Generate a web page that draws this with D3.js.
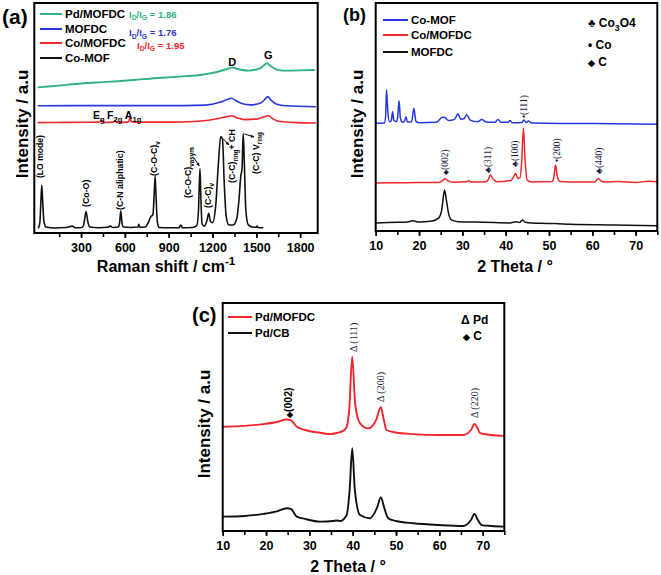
<!DOCTYPE html>
<html><head><meta charset="utf-8">
<script src="https://cdn.jsdelivr.net/npm/d3@7"></script>
<style>body{margin:0;background:#fff}svg{display:block}</style>
</head><body>
<svg id="fig" width="661" height="575"></svg>
<script>
// ---------------- DATA ----------------
const ramanTicks = [300, 600, 900, 1200, 1500, 1800];
const thetaTicks = [10, 20, 30, 40, 50, 60, 70];

// Panel (a): Raman shift (cm-1) vs intensity (a.u.)
const raman_CoMOF = [[7,2.0],[18,4.5],[24,12],[31,20.9],[38,13],[46,5],[60,2.6],[120,2.2],[200,2.4],[240,3.0],[260,2.3],[300,2.3],[315,3],[322,5],[334,9.3],[346,5],[360,2.6],[420,2.3],[480,2.5],[500,3.0],[520,2.4],[556,2.6],[564,4.5],[572,9.6],[580,4.5],[590,2.6],[640,2.4],[690,2.6],[695,3.8],[702,2.5],[740,2.6],[760,4.5],[777,7],[792,8],[800,16],[807,24.8],[814,15],[822,5],[835,2.4],[900,2.3],[970,2.3],[983,3.5],[995,2.3],[1060,2.4],[1092,3.2],[1104,10],[1114,28],[1121,14],[1128,4],[1145,3],[1162,5.5],[1174,8.6],[1186,5],[1200,4.5],[1222,12],[1240,30],[1256,41.9],[1268,41],[1280,22],[1294,7],[1312,3.5],[1340,3.5],[1365,6],[1382,15],[1393,24.5],[1402,28],[1410,43.3],[1418,30],[1428,10],[1445,3.5],[1480,2.5],[1498,2.5],[1505,3.0],[1512,2.4],[1548,2.3]];
const raman_CoMOFDC = [[3,48.0],[200,48.1],[420,48.2],[442,48.9],[455,48.1],[520,48.2],[533,48.9],[546,48.1],[620,48.2],[630,49.0],[636,50.3],[643,48.6],[660,48.2],[900,48.2],[1100,48.6],[1250,49.9],[1300,50.6],[1331,51.0],[1370,50.0],[1420,49.3],[1500,49.5],[1550,50.4],[1582,51.0],[1610,49.8],[1650,48.6],[1750,48.1],[1908,47.8]];
const raman_MOFDC = [[3,55.3],[600,55.4],[1000,55.4],[1150,55.6],[1250,56.8],[1300,58.0],[1331,58.6],[1360,57.6],[1400,56.3],[1460,55.7],[1530,56.5],[1560,58.2],[1578,59.3],[1600,57.8],[1640,56.0],[1700,55.3],[1908,54.9]];
const raman_PdMOFDC = [[3,63.3],[100,63.8],[200,64.4],[316,65.1],[450,65.6],[550,66.0],[658,66.5],[800,67.3],[950,67.9],[1114,68.7],[1229,70.0],[1300,71.3],[1335,71.9],[1380,71.2],[1445,70.6],[1520,71.5],[1550,72.8],[1571,73.8],[1600,72.5],[1640,71.0],[1685,70.6],[1800,70.7],[1901,70.9]];

// Panel (b): 2 Theta vs intensity
const xrd_CoMOF = [[10,46.8],[12,46.9],[12.3,50],[12.5,61.6],[12.8,52],[13.2,47.5],[13.6,48],[13.9,51.9],[14.2,48],[14.8,47.5],[15.1,50],[15.4,56.8],[15.7,49],[16.2,47.2],[16.7,48],[17.0,49.7],[17.3,47.3],[18.3,47.5],[18.8,53.4],[19.3,47.6],[20,47.0],[24,47.2],[25.4,49.5],[26,49.3],[26.8,48],[28.2,48.5],[29,51],[29.6,48.6],[30.4,48.8],[31,50.5],[31.8,48.2],[33.5,47.5],[34.5,48.4],[35.5,47.3],[37.5,47.2],[38.2,48.4],[39,47.2],[40.5,47.2],[41,48],[41.5,47],[43.7,47.1],[44.2,48.2],[44.8,47.0],[45.2,47.8],[46,46.9],[55,46.7],[65,46.6],[75,46.4]];
const xrd_CoMOFDC = [[10,20.3],[15,20.5],[20,20.6],[24.5,20.6],[25.5,21.5],[26,22.4],[26.7,21.3],[28,20.7],[31,20.9],[31.4,21.4],[32,20.8],[35.5,20.9],[36,22],[36.5,23.9],[37,22.3],[38,20.9],[41.2,21.5],[41.8,23],[42.3,24.6],[42.8,22.4],[43.3,22.6],[43.7,30],[44.1,44.7],[44.5,30],[45,21.5],[46,20.8],[50.8,21],[51.2,24],[51.5,28.3],[51.9,23.5],[52.5,21],[55,20.8],[60.5,20.8],[61,21.6],[61.4,22.4],[62,21.3],[63,20.8],[66,21.0],[70,20.6],[73,21.1],[75,20.9]];
const xrd_MOFDC = [[10,2.7],[15,3.0],[17,3.0],[18.6,3.6],[20,3.1],[23,3.5],[24.5,4.8],[25.2,8],[25.6,14],[25.9,17.3],[26.3,13],[26.8,7],[27.5,4],[29,3.2],[35,3.0],[41,2.7],[42.5,3.2],[43.2,2.9],[43.9,4.0],[44.5,3.0],[48,2.5],[51.4,2.4],[55,2.1],[65,1.8],[75,1.4]];

// Panel (c): 2 Theta vs intensity
const xrd_PdMOFDC = [[10,45.7],[15,46.1],[19.4,46.9],[22.5,47.8],[24.8,48.9],[25.8,48.5],[27.1,45.7],[29,44.3],[32.5,43.1],[35,42.5],[36.3,43.0],[37.8,43.9],[38.6,45.6],[39.2,53.1],[39.9,76.4],[40.6,55.3],[41.7,47.2],[43.6,45.0],[45.4,48.7],[46.5,54.3],[47.2,48.7],[47.8,44.3],[50,43.2],[54,42.5],[60,42.1],[65.5,42.1],[67.3,44.3],[68.1,46.9],[68.8,45.2],[69.4,42.9],[72,42.1],[75,41.7]];
const xrd_PdCB = [[10,6.3],[15,6.6],[19.4,7.5],[22.5,8.6],[24.8,10.0],[25.8,9.6],[27.1,6.3],[29,5.3],[32.5,4.1],[35.5,4.4],[36.3,4.6],[37.2,4.4],[38.6,7.0],[39.3,18],[39.9,36.3],[40.5,18],[41.7,7.0],[44,5.6],[45.6,10.1],[46.5,14.8],[47.3,10.1],[48.2,5.6],[50,4.4],[54,3.4],[60,2.6],[65.5,2.2],[67.3,4.8],[68.1,7.5],[68.9,4.8],[69.8,2.6],[72,2.2],[75,1.9]];

// ---------------- DRAW ----------------
const SANS = '"Liberation Sans", Arial, sans-serif';
const SERIF = '"Liberation Serif", "Times New Roman", serif';
const RED = '#f2262b', BLUE = '#2838e0', GREEN = '#2fb383', BLACK = '#111';
const svg = d3.select('#fig');

function rich(g, x, y, parts, o) {
  const size = o.size;
  const t = g.append('text').attr('x', x).attr('y', y)
    .attr('font-family', o.family || SANS).attr('font-weight', o.weight || 'bold')
    .attr('font-size', size).attr('fill', o.fill || '#000')
    .attr('text-anchor', o.anchor || 'start');
  if (o.rotate) t.attr('transform', `rotate(-90 ${x} ${y})`);
  let shift = 0;
  parts.forEach(p => {
    const [s, kind] = typeof p === 'string' ? [p, null] : p;
    const target = kind === 'sub' ? size * 0.3 : kind === 'sup' ? -size * 0.45 : 0;
    const fs = kind === 'sym' ? size * 0.72 : kind === 'club' ? size * 0.95 : kind ? size * 0.72 : size;
    t.append('tspan').attr('dy', target - shift).attr('font-size', fs).text(s);
    shift = target;
  });
  return t;
}

function panel(cfg) {
  const g = svg.append('g');
  const x = d3.scaleLinear().domain(cfg.xd).range([cfg.l, cfg.r]);
  const y = d3.scaleLinear().domain(cfg.yd).range([cfg.b, cfg.t]);
  const id = 'clip' + cfg.name;
  svg.append('clipPath').attr('id', id).append('rect')
    .attr('x', cfg.l).attr('y', cfg.t).attr('width', cfg.r - cfg.l).attr('height', cfg.b - cfg.t);
  const line = d3.line().x(d => x(d[0])).y(d => y(d[1])).curve(d3.curveMonotoneX);
  cfg.series.forEach(s => {
    g.append('path').attr('d', line(s.data)).attr('fill', 'none')
      .attr('stroke', s.color).attr('stroke-width', s.w || 1.5)
      .attr('stroke-linejoin', 'round').attr('clip-path', `url(#${id})`);
  });
  const ax = d3.axisBottom(x).tickValues(cfg.minor).tickSize(4).tickFormat('');
  const axg = g.append('g').attr('transform', `translate(0,${cfg.b})`).call(ax);
  axg.select('.domain').remove();
  axg.selectAll('line').attr('stroke', '#000').attr('stroke-width', 1.6);
  const lab = d3.axisBottom(x).tickValues(cfg.ticks).tickSize(5).tickPadding(3).tickFormat(d3.format('d'));
  const lg = g.append('g').attr('transform', `translate(0,${cfg.b})`).call(lab);
  lg.select('.domain').remove();
  lg.selectAll('line').attr('stroke', '#000').attr('stroke-width', 1.6);
  lg.selectAll('text').attr('font-family', SANS).attr('font-weight', 'bold')
    .attr('font-size', 12.5).attr('fill', '#000').attr('dy', '0.9em');
  g.append('rect').attr('x', cfg.l).attr('y', cfg.t).attr('width', cfg.r - cfg.l)
    .attr('height', cfg.b - cfg.t).attr('fill', 'none').attr('stroke', '#000').attr('stroke-width', 2);
  return { g, x, y };
}

function legendLine(g, x1, x2, y, color, label, size) {
  g.append('line').attr('x1', x1).attr('x2', x2).attr('y1', y).attr('y2', y)
    .attr('stroke', color).attr('stroke-width', 2);
  g.append('text').attr('x', x2 + 3).attr('y', y + size * 0.36).text(label)
    .attr('font-family', SANS).attr('font-weight', 'bold').attr('font-size', size);
}

// ===== Panel (a) =====
const A = panel({
  name: 'a', l: 34.3, r: 317.7, t: 3, b: 233, xd: [-20, 1920], yd: [0, 100],
  ticks: ramanTicks, minor: d3.range(150, 1901, 150),
  series: [
    { data: raman_PdMOFDC, color: GREEN, w: 1.9 },
    { data: raman_MOFDC, color: BLUE, w: 1.6 },
    { data: raman_CoMOFDC, color: RED, w: 1.6 },
    { data: raman_CoMOF, color: BLACK, w: 1.6 }
  ]
});
{
  const g = A.g, x = A.x;
  legendLine(g, 40, 62, 14, GREEN, 'Pd/MOFDC', 11.5);
  legendLine(g, 40, 62, 29, BLUE, 'MOFDC', 11.5);
  legendLine(g, 40, 62, 43, RED, 'Co/MOFDC', 11.5);
  legendLine(g, 40, 62, 58, BLACK, 'Co-MOF', 11.5);
  rich(g, 129, 17.5, ['I', ['D', 'sub'], '/I', ['G', 'sub'], ' = 1.86'], { size: 9.5, fill: GREEN });
  rich(g, 129, 36, ['I', ['D', 'sub'], '/I', ['G', 'sub'], ' = 1.76'], { size: 9.5, fill: BLUE });
  rich(g, 137, 48.5, ['I', ['D', 'sub'], '/I', ['G', 'sub'], ' = 1.95'], { size: 9.5, fill: RED });
  rich(g, x(1335), 66, ['D'], { size: 11, anchor: 'middle' });
  rich(g, x(1582), 59, ['G'], { size: 11, anchor: 'middle' });
  rich(g, x(382), 119, ['E', ['g', 'sub']], { size: 10.5 });
  rich(g, x(478), 119, ['F', ['2g', 'sub']], { size: 10.5 });
  rich(g, x(600), 119, ['A', ['1g', 'sub']], { size: 10.5 });
  const rl = (v, bottom, parts, size) => rich(g, x(v) + (size || 8.8) * 0.36, bottom, parts, { size: size || 8.8, rotate: true });
  rl(20, 178, ['(LO mode)'], 8.6);
  rl(334, 207, ['(Co-O)']);
  rl(567, 210, ['(C-N aliphatic)']);
  rl(800, 176, ['(C-O-C)', ['v', 'sub']]);
  rl(1032, 198, ['(C-O-C)', ['v', 'sub'], ['asym', 'sub']]);
  rl(1169, 208, ['(C-C)', ['v', 'sub']]);
  rl(1333, 183, ['(C-C)', ['ring', 'sub'], '+ CH']);
  rl(1497, 174, ['(C-C) V', ['ring', 'sub']]);
  const arr = (x1, y1, x2, y2) => {
    g.append('line').attr('x1', x1).attr('y1', y1).attr('x2', x2).attr('y2', y2)
      .attr('stroke', '#000').attr('stroke-width', 1);
    const ang = Math.atan2(y2 - y1, x2 - x1), L = 3.5;
    g.append('path').attr('d', `M${x2},${y2}L${x2 - L * Math.cos(ang - 0.5)},${y2 - L * Math.sin(ang - 0.5)}L${x2 - L * Math.cos(ang + 0.5)},${y2 - L * Math.sin(ang + 0.5)}Z`).attr('fill', '#000');
  };
  arr(194, 158, x(1110), 166);
  arr(x(1275), 139, 229, 145);
  arr(x(1420), 134, 254, 137);
}
svg.append('text').attr('x', 2).attr('y', 24).text('(a)')
  .attr('font-family', SANS).attr('font-weight', 'bold').attr('font-size', 21);
rich(svg, 166, 272, ['Raman shift / cm', ['-1', 'sup']], { size: 16, anchor: 'middle' });
svg.append('text').attr('transform', 'translate(28,124) rotate(-90)').attr('text-anchor', 'middle')
  .text('Intensity / a.u').attr('font-family', SANS).attr('font-weight', 'bold').attr('font-size', 17);

// ===== Panel (b) =====
const B = panel({
  name: 'b', l: 375.7, r: 657.3, t: 3, b: 231, xd: [10, 75], yd: [-0.885, 100],
  ticks: thetaTicks, minor: d3.range(10, 76, 5),
  series: [
    { data: xrd_CoMOF, color: BLUE, w: 1.5 },
    { data: xrd_CoMOFDC, color: RED, w: 1.5 },
    { data: xrd_MOFDC, color: BLACK, w: 1.5 }
  ]
});
{
  const g = B.g, x = B.x;
  legendLine(g, 383, 408, 20, BLUE, 'Co-MOF', 11.5);
  legendLine(g, 383, 408, 35, RED, 'Co/MOFDC', 11.5);
  legendLine(g, 383, 408, 52, BLACK, 'MOFDC', 11.5);
  rich(g, 588, 27, [['\u2663', 'club'], ' Co', ['3', 'sub'], 'O4'], { size: 12 });
  rich(g, 588, 49, ['\u2022 Co'], { size: 12 });
  rich(g, 588, 66, [['\u25C6', 'sym'], ' C'], { size: 12 });
  const rl = (v, bottom, sym, txt, k) => {
    const s = 9.5, xx = x(v) + s * 0.36;
    const t = g.append('text').attr('transform', `translate(${xx},${bottom}) rotate(-90)`)
      .attr('font-family', SERIF).attr('font-size', s).attr('fill', '#1c1c40');
    t.append('tspan').attr('font-size', s * k).attr('font-family', SANS).text(sym);
    t.append('tspan').text(txt);
  };
  rl(26.0, 175, '\u25C6', '(002)', 0.75);
  rl(35.9, 173, '\u2663', '(311)', 0.95);
  rl(42.1, 167, '\u2663', '(100)', 0.95);
  rl(44.06, 118, '\u2022', '(111)', 0.9);
  rl(51.8, 162, '\u2022', '(200)', 0.9);
  rl(61.5, 174, '\u2663', '(440)', 0.95);
}
svg.append('text').attr('x', 343).attr('y', 21).text('(b)')
  .attr('font-family', SANS).attr('font-weight', 'bold').attr('font-size', 18);
svg.append('text').attr('x', 515).attr('y', 272).attr('text-anchor', 'middle').text('2 Theta / \u00B0')
  .attr('font-family', SANS).attr('font-weight', 'bold').attr('font-size', 16);
svg.append('text').attr('transform', 'translate(363,124) rotate(-90)').attr('text-anchor', 'middle')
  .text('Intensity / a.u').attr('font-family', SANS).attr('font-weight', 'bold').attr('font-size', 17);

// ===== Panel (c) =====
const C = panel({
  name: 'c', l: 222.7, r: 504.3, t: 303, b: 531, xd: [10, 75], yd: [0, 100],
  ticks: thetaTicks, minor: d3.range(10, 76, 5),
  series: [
    { data: xrd_PdMOFDC, color: RED, w: 1.9 },
    { data: xrd_PdCB, color: BLACK, w: 1.9 }
  ]
});
{
  const g = C.g, x = C.x;
  legendLine(g, 228, 252, 317, RED, 'Pd/MOFDC', 11.5);
  legendLine(g, 228, 252, 333, BLACK, 'Pd/CB', 11.5);
  rich(g, 461, 324, ['\u0394 Pd'], { size: 12 });
  rich(g, 463, 340, [['\u25C6', 'sym'], ' C'], { size: 12 });
  rich(g, x(25.1) + 4, 418, [['\u25C6', 'sym'], '(002)'], { size: 10.5, rotate: true });
  const rl = (v, bottom, txt) => rich(g, x(v) + 3.6, bottom, [txt], { size: 10, rotate: true, family: SERIF, weight: 'normal', fill: '#1c1c40' });
  rl(40.1, 352, '\u0394 (111)');
  rl(46.5, 402, '\u0394 (200)');
  rl(68.0, 418, '\u0394 (220)');
}
svg.append('text').attr('x', 192).attr('y', 322).text('(c)')
  .attr('font-family', SANS).attr('font-weight', 'bold').attr('font-size', 20);
svg.append('text').attr('x', 348).attr('y', 572).attr('text-anchor', 'middle').text('2 Theta / \u00B0')
  .attr('font-family', SANS).attr('font-weight', 'bold').attr('font-size', 16);
svg.append('text').attr('transform', 'translate(210,424) rotate(-90)').attr('text-anchor', 'middle')
  .text('Intensity / a.u').attr('font-family', SANS).attr('font-weight', 'bold').attr('font-size', 17);
</script>
</body></html>
